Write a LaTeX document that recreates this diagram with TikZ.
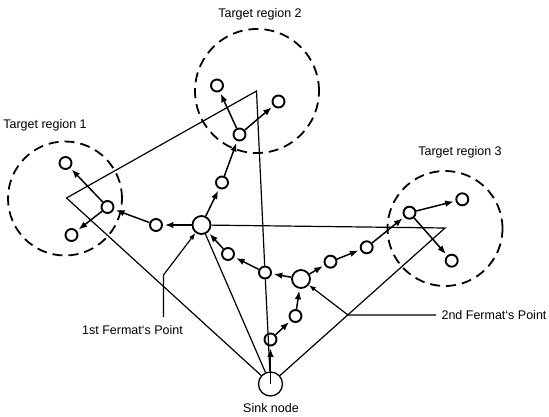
\documentclass[tikz,border=0pt]{standalone}
\usepackage{fontspec}
\setmainfont{Liberation Sans}
\usetikzlibrary{arrows.meta}
\begin{document}
\begin{tikzpicture}[x=1pt,y=-1pt,
  sn/.style={circle,draw,line width=1.9pt,fill=white,minimum size=12pt,inner sep=0pt},
  fp/.style={circle,draw,line width=1.8pt,fill=white,minimum size=18pt,inner sep=0pt},
  sinkn/.style={circle,draw,line width=1.3pt,fill=white,minimum size=24pt,inner sep=0pt},
  region/.style={circle,draw,line width=1.8pt,dash pattern=on 10pt off 6pt,inner sep=0pt},
  flow/.style={line width=1.5pt,-{Latex[length=8.5pt,width=6.5pt]},shorten >=2pt},
  thinl/.style={line width=1.2pt},
  ptr/.style={line width=1.2pt,-{Latex[length=7pt,width=5pt]}},
  lab/.style={font=\fontsize{12.5}{14}\selectfont,inner sep=0pt}
]
\useasboundingbox (0,0) rectangle (549,417);

% target regions
\node[region,minimum size=114pt] (reg1) at (65,198.5) {};
\node[region,minimum size=124pt] (reg2) at (257,91) {};
\node[region,minimum size=115pt] (reg3) at (445,228.5) {};

% triangle corners
\coordinate (c1) at (66.5,198);
\coordinate (c2) at (256.5,91);
\coordinate (c3) at (445,228);

% nodes
\node[sinkn] (S) at (270.5,384) {};
\node[fp] (F1) at (201.5,225) {};
\node[fp] (F2) at (301,279) {};
\node[sn] (J) at (265,272.5) {};
\node[sn] (a) at (228,254) {};
\node[sn] (b) at (156,225) {};
\node[sn] (c) at (222,182.5) {};
\node[sn] (R2) at (239.5,134.5) {};
\node[sn] (R2a) at (217,85.5) {};
\node[sn] (R2b) at (278.5,101.5) {};
\node[sn] (R1) at (107.5,207) {};
\node[sn] (R1a) at (65.5,163) {};
\node[sn] (R1b) at (71.5,235) {};
\node[sn] (s1) at (270.5,339.5) {};
\node[sn] (s2) at (295.5,316) {};
\node[sn] (t1) at (330.5,261.7) {};
\node[sn] (t2) at (366.7,247.3) {};
\node[sn] (R3) at (409.5,212.7) {};
\node[sn] (R3a) at (462.3,199.3) {};
\node[sn] (R3b) at (451.7,260.7) {};

% thin triangle lines
\draw[thinl] (c1) -- (c2) -- (J);
\draw[thinl] (J) -- (S);
\draw[thinl] (c1) -- (S);
\draw[thinl] (F1) -- (c3) -- (S);
\draw[thinl] (F1) -- (S);

% flows
\draw[flow] (S.center) -- (s1);
\draw[flow] (s1) -- (s2);
\draw[flow] (s2) -- (F2);
\draw[flow] (F2) -- (J);
\draw[flow] (J) -- (a);
\draw[flow] (a) -- (F1);
\draw[flow] (F1) -- (b);
\draw[flow] (b) -- (R1);
\draw[flow] (R1) -- (R1a);
\draw[flow] (R1) -- (R1b);
\draw[flow] (F1) -- (c);
\draw[flow] (c) -- (R2);
\draw[flow] (R2) -- (R2a);
\draw[flow] (R2) -- (R2b);
\draw[flow] (F2) -- (t1);
\draw[flow] (t1) -- (t2);
\draw[flow] (t2) -- (R3);
\draw[flow] (R3) -- (R3a);
\draw[flow] (R3) -- (R3b);

% labels
\node[lab] (L1) at (45,125) {Target region 1};
\node[lab] (L2) at (260,14) {Target region 2};
\node[lab] (L3) at (460,152) {Target region 3};
\node[lab] (LS) at (271,408) {Sink node};
\node[lab] (LF1) at (132.5,330) {1st Fermat`s Point};
\node[lab] (LF2) at (494,315) {2nd Fermat`s Point};

% pointers
\coordinate (p1a) at (163.5,317);
\coordinate (p1b) at (163.5,275);
\coordinate (p2a) at (436,315);
\coordinate (p2b) at (348,315);
\draw[ptr] (p1a) -- (p1b) -- (F1);
\draw[ptr] (p2a) -- (p2b) -- (F2);
\end{tikzpicture}
\end{document}
